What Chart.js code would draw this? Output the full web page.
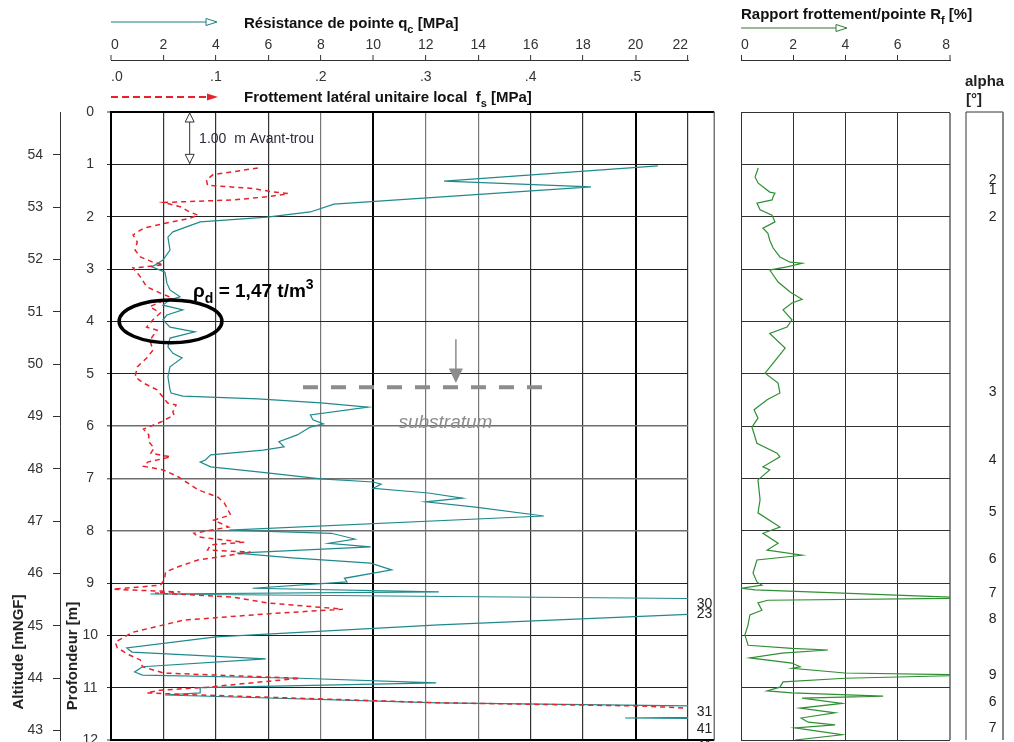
<!DOCTYPE html>
<html lang="fr">
<head>
<meta charset="utf-8">
<title>Sondage pénétrométrique</title>
<script src="https://cdn.jsdelivr.net/npm/chart.js@4.4.1/dist/chart.umd.min.js"></script>
<style>
  html, body { margin: 0; padding: 0; background: #fff; width: 1014px; height: 742px; overflow: hidden; }
  canvas { position: absolute; top: 0; }
  #mainChart { left: 0; }
  #rfChart { left: 720px; }
  #alphaChart { left: 960px; }
</style>
</head>
<body>
<canvas id="mainChart" width="720" height="760"></canvas>
<canvas id="rfChart" width="294" height="760"></canvas>
<canvas id="alphaChart" width="54" height="760"></canvas>
<script>
// Graduations
const qcTicks = [0, 2, 4, 6, 8, 10, 12, 14, 16, 18, 20, 22];
const fsTicks = [0, 0.1, 0.2, 0.3, 0.4, 0.5, 0.55];
const rfTicks = [0, 2, 4, 6, 8];
const depthTicks = [0, 1, 2, 3, 4, 5, 6, 7, 8, 9, 10, 11, 12];
const altTicks = [43, 44, 45, 46, 47, 48, 49, 50, 51, 52, 53, 54];
const ALT_TOP = 54.82; // altitude de la tête du sondage (mNGF)

// Résistance de pointe qc [MPa] en fonction de la profondeur [m]
const qcDepth = [1.03, 1.32, 1.43, 1.76, 1.91, 2.01, 2.10, 2.29, 2.39, 2.64,
  2.83, 2.96, 3.06, 3.27, 3.40, 3.53, 3.59, 3.69, 3.78, 3.88,
  3.97, 4.11, 4.20, 4.32, 4.49, 4.61, 4.70, 4.87, 5.06, 5.31,
  5.37, 5.43, 5.48, 5.56, 5.64, 5.79, 5.88, 5.96, 6.02, 6.17,
  6.30, 6.40, 6.46, 6.55, 6.65, 6.69, 6.78, 6.88, 7.01, 7.07,
  7.11, 7.19, 7.28, 7.38, 7.45, 7.55, 7.72, 7.99, 8.05, 8.16,
  8.24, 8.31, 8.43, 8.52, 8.62, 8.75, 8.91, 8.98, 9.10, 9.17,
  9.21, 9.33, 9.45, 9.58, 9.80, 10.03, 10.24, 10.32, 10.45, 10.60,
  10.70, 10.76, 10.82, 10.91, 11.00, 11.10, 11.14, 11.29, 11.40, 11.52,
  11.58, 11.65, 12.00];
const qcValue = [20.85, 12.7, 18.3, 8.5, 7.6, 5.95, 3.4, 2.36, 2.17, 2.25,
  1.98, 1.56, 2.06, 2.13, 2.25, 2.63, 2.25, 1.98, 2.74, 2.13,
  1.98, 2.25, 3.2, 2.25, 2.17, 2.36, 2.71, 2.25, 2.17, 2.25,
  2.29, 2.74, 5.6, 8.0, 9.8, 7.6, 7.7, 8.1, 7.6, 7.1,
  6.4, 6.6, 5.8, 3.8, 3.6, 3.4, 3.8, 5.7, 8.0, 10.0,
  10.3, 10.0, 12.1, 13.4, 12.0, 13.9, 16.5, 4.5, 8.4, 9.3,
  8.3, 9.9, 4.8, 6.9, 9.9, 10.7, 8.9, 9.0, 5.4, 12.5,
  1.5, 30, 30, 23, 12.5, 4.0, 0.6, 0.8, 5.9, 1.2,
  0.9, 1.2, 7.2, 12.4, 3.4, 3.4, 2.06, 12.5, 31, 30,
  19.6, 41, 41];

// Frottement latéral unitaire local fs [MPa]
const fsDepth = [1.07, 1.20, 1.30, 1.40, 1.46, 1.52, 1.56, 1.62, 1.68, 1.73,
  1.81, 1.91, 1.97, 2.03, 2.12, 2.22, 2.35, 2.48, 2.64, 2.77,
  2.87, 2.92, 2.96, 2.98, 3.15, 3.34, 3.46, 3.56, 3.63, 3.72,
  3.84, 3.97, 4.11, 4.17, 4.36, 4.55, 4.70, 4.87, 5.06, 5.18,
  5.31, 5.56, 5.60, 5.73, 5.79, 5.92, 6.06, 6.17, 6.30, 6.42,
  6.52, 6.59, 6.69, 6.77, 6.84, 6.97, 7.22, 7.36, 7.47, 7.70,
  7.80, 7.93, 8.05, 8.12, 8.22, 8.27, 8.37, 8.41, 8.56, 8.69,
  8.79, 8.94, 9.04, 9.12, 9.17, 9.19, 9.27, 9.38, 9.50, 9.59,
  9.71, 9.94, 10.13, 10.24, 10.38, 10.47, 10.60, 10.72, 10.76, 10.82,
  10.99, 11.05, 11.10, 11.14, 11.29, 11.35, 11.39, 11.50];
const fsValue = [0.140, 0.097, 0.091, 0.092, 0.135, 0.152, 0.169, 0.149, 0.116, 0.050,
  0.066, 0.075, 0.083, 0.075, 0.053, 0.031, 0.021, 0.025, 0.023, 0.028,
  0.040, 0.050, 0.031, 0.021, 0.028, 0.034, 0.047, 0.059, 0.047, 0.037,
  0.047, 0.040, 0.034, 0.044, 0.037, 0.040, 0.034, 0.025, 0.023, 0.031,
  0.044, 0.054, 0.062, 0.059, 0.060, 0.048, 0.031, 0.036, 0.036, 0.041,
  0.038, 0.057, 0.035, 0.031, 0.050, 0.064, 0.083, 0.102, 0.108, 0.114,
  0.098, 0.112, 0.079, 0.083, 0.127, 0.095, 0.092, 0.133, 0.083, 0.064,
  0.052, 0.051, 0.047, 0.002, 0.066, 0.042, 0.116, 0.149, 0.221, 0.149,
  0.069, 0.021, 0.004, 0.006, 0.018, 0.028, 0.030, 0.050, 0.101, 0.180,
  0.092, 0.047, 0.034, 0.085, 0.314, 0.504, 0.549, 0.75];

// Rapport frottement/pointe Rf [%]
const rfDepth = [1.07, 1.24, 1.36, 1.53, 1.55, 1.62, 1.68, 1.74, 1.87, 1.97,
  2.10, 2.22, 2.32, 2.45, 2.60, 2.77, 2.87, 2.89, 2.96, 3.02,
  3.25, 3.44, 3.58, 3.65, 3.78, 3.97, 4.11, 4.23, 4.51, 4.80,
  4.99, 5.18, 5.37, 5.50, 5.69, 5.85, 6.02, 6.33, 6.52, 6.59,
  6.78, 6.84, 7.03, 7.41, 7.66, 7.93, 8.05, 8.24, 8.37, 8.47,
  8.56, 8.81, 8.98, 9.04, 9.10, 9.13, 9.29, 9.33, 9.38, 9.52,
  9.61, 9.80, 9.99, 10.19, 10.25, 10.28, 10.34, 10.43, 10.53, 10.60,
  10.63, 10.72, 10.76, 10.82, 10.89, 10.99, 11.06, 11.10, 11.16, 11.20,
  11.30, 11.39, 11.48, 11.58, 11.66, 11.71, 11.77, 11.90, 12.00];
const rfValue = [0.66, 0.54, 0.66, 1.10, 1.30, 1.23, 1.19, 0.61, 0.73, 1.19,
  1.30, 0.84, 1.03, 1.10, 1.23, 1.49, 1.88, 2.34, 1.76, 1.10,
  1.42, 1.88, 2.34, 1.95, 1.61, 1.95, 1.76, 1.10, 1.69, 1.23,
  0.92, 1.42, 1.49, 1.00, 0.50, 0.65, 0.42, 0.61, 1.38, 1.49,
  0.84, 1.10, 0.65, 0.73, 0.65, 1.49, 0.84, 1.42, 1.00, 2.34,
  0.61, 0.46, 0.61, 0.80, 0.04, 0.54, 9.0, 1.03, 0.65, 0.80,
  0.34, 0.27, 0.15, 0.27, 1.95, 3.33, 1.57, 0.34, 1.95, 2.26,
  1.95, 3.98, 9.0, 3.98, 1.61, 1.49, 1.00, 1.95, 5.44, 2.34,
  3.87, 2.26, 3.60, 2.30, 2.57, 3.60, 2.07, 3.87, 2.07];

// Angle alpha [°]
const alphaDepth = [1.30, 1.49, 2.01, 5.35, 6.65, 7.64, 8.54, 9.19, 9.69, 10.76, 11.27, 11.77];
const alphaValue = ['2', '1', '2', '3', '4', '5', '6', '7', '8', '9', '6', '7'];

// Valeurs de qc hors échelle
const offDepth = [9.40, 9.59, 11.47, 11.79, 12.12];
const offLabel = ['30', '23', '31', '41', '41'];

const FONT = "'Liberation Sans', Arial, sans-serif";
const TEAL = '#1f8a8c';
const RED = '#e8222b';
const GREEN = '#2f8f33';

Chart.defaults.font.family = FONT;
Chart.defaults.font.size = 14;
Chart.defaults.color = '#333';
Chart.defaults.animation = false;

function pairs(depths, values) {
    return depths.map((d, i) => ({ x: values[i], y: d }));
}

function fixedTicks(list) {
    return scale => { scale.ticks = list.map(v => ({ value: v })); };
}

// texte avec indice / exposant
function richText(ctx, parts, x, y, size, style) {
    let cx = x;
    parts.forEach(([txt, mode]) => {
        const s = mode ? Math.round(size * 0.75) : size;
        ctx.font = `${style} ${s}px ${FONT}`;
        const dy = mode === 'sub' ? size * 0.3 : (mode === 'sup' ? -size * 0.42 : 0);
        ctx.fillText(txt, cx, y + dy);
        cx += ctx.measureText(txt).width;
    });
}

function legendArrow(ctx, x1, x2, y, color, dashed) {
    ctx.save();
    ctx.strokeStyle = color;
    ctx.fillStyle = color;
    ctx.lineWidth = dashed ? 2 : 1.2;
    ctx.setLineDash(dashed ? [7, 4] : []);
    ctx.beginPath(); ctx.moveTo(x1, y); ctx.lineTo(x2 - 10, y); ctx.stroke();
    ctx.setLineDash([]);
    ctx.lineWidth = 1;
    ctx.beginPath(); ctx.moveTo(x2 - 11, y - 3.5); ctx.lineTo(x2, y); ctx.lineTo(x2 - 11, y + 3.5); ctx.closePath();
    if (dashed) {
        ctx.fill();
    } else {
        ctx.fillStyle = '#fff'; ctx.fill(); ctx.stroke();
    }
    ctx.restore();
}

function openHead(ctx, x, tipY, dir) {
    ctx.beginPath();
    ctx.moveTo(x - 4.5, tipY + dir * 9);
    ctx.lineTo(x, tipY);
    ctx.lineTo(x + 4.5, tipY + dir * 9);
    ctx.closePath();
    ctx.fillStyle = '#fff';
    ctx.fill();
    ctx.stroke();
}

const mainDecor = {
    id: 'mainDecor',
    afterDraw(chart) {
        const { ctx, chartArea: a, scales } = chart;
        const px = v => scales.x.getPixelForValue(v);
        const py = d => scales.y.getPixelForValue(d);
        ctx.save();

        // colonne des valeurs hors échelle
        const xr = px(23);
        ctx.strokeStyle = '#000'; ctx.lineWidth = 2;
        ctx.beginPath();
        ctx.moveTo(a.right, a.top); ctx.lineTo(xr, a.top);
        ctx.moveTo(a.right, a.bottom); ctx.lineTo(xr, a.bottom);
        ctx.stroke();
        ctx.strokeStyle = '#555'; ctx.lineWidth = 1.2;
        ctx.beginPath(); ctx.moveTo(xr, a.top); ctx.lineTo(xr, a.bottom); ctx.stroke();
        ctx.fillStyle = '#222'; ctx.font = `14px ${FONT}`;
        ctx.textAlign = 'right'; ctx.textBaseline = 'middle';
        offDepth.forEach((d, i) => ctx.fillText(offLabel[i], xr - 2, py(d)));

        // avant-trou
        const xa = px(3.0);
        ctx.strokeStyle = '#333'; ctx.lineWidth = 1;
        ctx.beginPath(); ctx.moveTo(xa, py(0)); ctx.lineTo(xa, py(1)); ctx.stroke();
        openHead(ctx, xa, py(0) + 1, 1);
        openHead(ctx, xa, py(1) - 1, -1);
        ctx.fillStyle = '#2b2b3b'; ctx.font = `14px ${FONT}`;
        ctx.textAlign = 'left'; ctx.textBaseline = 'alphabetic';
        ctx.fillText('1.00  m Avant-trou', px(3.36), py(0.59));

        // masse volumique sèche
        ctx.strokeStyle = '#000'; ctx.lineWidth = 3.5;
        ctx.beginPath();
        ctx.ellipse(px(2.27), py(4.0), px(4.23) - px(2.27), py(4.41) - py(4.0), 0, 0, Math.PI * 2);
        ctx.stroke();
        ctx.fillStyle = '#000';
        richText(ctx, [['ρ'], ['d', 'sub'], [' = 1,47 t/m'], ['3', 'sup']], px(3.13), py(3.54), 19, 'bold');

        // substratum
        ctx.strokeStyle = '#8c8c8c'; ctx.lineWidth = 4; ctx.setLineDash([15, 13]);
        ctx.beginPath(); ctx.moveTo(px(7.32), py(5.26)); ctx.lineTo(px(16.47), py(5.26)); ctx.stroke();
        ctx.setLineDash([]);
        const xs = px(13.15);
        ctx.lineWidth = 1.5;
        ctx.beginPath(); ctx.moveTo(xs, py(4.34)); ctx.lineTo(xs, py(5.0)); ctx.stroke();
        ctx.fillStyle = '#8c8c8c';
        ctx.beginPath(); ctx.moveTo(xs - 7, py(4.9)); ctx.lineTo(xs, py(5.18)); ctx.lineTo(xs + 7, py(4.9)); ctx.closePath(); ctx.fill();
        ctx.font = `italic 19px ${FONT}`; ctx.textAlign = 'center';
        ctx.fillText('substratum', px(12.75), py(6.04));

        // légendes du haut
        ctx.textAlign = 'left';
        legendArrow(ctx, 111, 217, 22, '#1d7d7f', false);
        ctx.fillStyle = '#111';
        richText(ctx, [['Résistance de pointe q'], ['c', 'sub'], [' [MPa]']], 244, 28, 15, 'bold');
        legendArrow(ctx, 111, 218, 97, RED, true);
        ctx.fillStyle = '#111';
        richText(ctx, [['Frottement latéral unitaire local  f'], ['s', 'sub'], [' [MPa]']], 244, 102, 15, 'bold');

        // titres des axes verticaux
        ctx.font = `bold 15px ${FONT}`; ctx.fillStyle = '#222';
        ctx.textAlign = 'center'; ctx.textBaseline = 'middle';
        ctx.save(); ctx.translate(19, 652); ctx.rotate(-Math.PI / 2); ctx.fillText('Altitude [mNGF]', 0, 0); ctx.restore();
        ctx.save(); ctx.translate(73, 656); ctx.rotate(-Math.PI / 2); ctx.fillText('Profondeur [m]', 0, 0); ctx.restore();

        ctx.restore();
    }
};

const qcGridColor = c => {
    const v = c.tick ? c.tick.value : -1;
    if ([0, 10, 20].includes(v)) return '#000';
    return [8, 12, 14].includes(v) ? '#777' : '#333';
};
const qcGridWidth = c => (c.tick && [0, 10, 20].includes(c.tick.value)) ? 2 : 1.2;
const depthGridColor = c => {
    const v = c.tick ? c.tick.value : -1;
    if (v === 0 || v === 12) return '#000';
    return [6, 7, 8].includes(v) ? '#6e6e6e' : '#222';
};
const depthGridWidth = c => {
    const v = c.tick ? c.tick.value : -1;
    if (v === 0 || v === 12) return 2;
    return [6, 7, 8].includes(v) ? 1.6 : 1;
};

new Chart(document.getElementById('mainChart'), {
    type: 'scatter',
    data: {
        datasets: [
            {
                label: 'fs',
                data: pairs(fsDepth, fsValue),
                xAxisID: 'xFs',
                yAxisID: 'y',
                showLine: true,
                borderColor: RED,
                borderWidth: 1.5,
                borderDash: [5, 4],
                pointRadius: 0,
                order: 0
            },
            {
                label: 'qc',
                data: pairs(qcDepth, qcValue),
                xAxisID: 'x',
                yAxisID: 'y',
                showLine: true,
                borderColor: TEAL,
                borderWidth: 1.2,
                pointRadius: 0,
                order: 1
            }
        ]
    },
    options: {
        responsive: false,
        events: [],
        layout: { padding: { left: 0, top: 0, right: 32, bottom: 20 } },
        plugins: { legend: { display: false }, tooltip: { enabled: false } },
        scales: {
            x: {
                type: 'linear', position: 'top', weight: 1, min: 0, max: 22,
                afterBuildTicks: fixedTicks(qcTicks),
                afterFit: s => { s.height = 60; },
                ticks: { align: 'inner', padding: 1, maxRotation: 0, autoSkip: false },
                grid: { color: qcGridColor, lineWidth: qcGridWidth, tickLength: 5, tickColor: '#333', tickWidth: 1 },
                border: { display: true, color: '#333', width: 1 }
            },
            xFs: {
                type: 'linear', position: 'top', weight: 0, min: 0, max: 0.55,
                afterBuildTicks: fixedTicks(fsTicks),
                afterFit: s => { s.height = 52; },
                ticks: {
                    align: 'inner', padding: 26, maxRotation: 0, autoSkip: false,
                    callback: v => v > 0.5 ? '' : '.' + Math.round(v * 10)
                },
                grid: { display: false, drawTicks: false },
                border: { display: false }
            },
            y: {
                type: 'linear', position: 'left', weight: 0, reverse: true, min: 0, max: 12,
                afterBuildTicks: fixedTicks(depthTicks),
                afterFit: s => { s.width = 51; },
                ticks: { crossAlign: 'center', padding: 9, autoSkip: false },
                grid: { color: depthGridColor, lineWidth: depthGridWidth, tickLength: 4, tickColor: '#333', tickWidth: 1 },
                border: { display: true, color: '#000', width: 2 }
            },
            yAlt: {
                type: 'linear', position: 'left', weight: 1, min: ALT_TOP - 12, max: ALT_TOP,
                afterBuildTicks: fixedTicks(altTicks),
                afterFit: s => { s.width = 60; },
                ticks: { padding: 10, autoSkip: false },
                grid: { drawOnChartArea: false, tickLength: 7, tickColor: '#333', tickWidth: 1 },
                border: { display: true, color: '#333', width: 1 }
            }
        }
    },
    plugins: [mainDecor]
});

const rfDecor = {
    id: 'rfDecor',
    afterDraw(chart) {
        const { ctx } = chart;
        ctx.save();
        ctx.textAlign = 'left'; ctx.textBaseline = 'alphabetic';
        ctx.fillStyle = '#111';
        richText(ctx, [['Rapport frottement/pointe R'], ['f', 'sub'], [' [%]']], 21, 19, 15, 'bold');
        legendArrow(ctx, 21, 127, 28, '#2e7d2e', false);
        ctx.restore();
    }
};

new Chart(document.getElementById('rfChart'), {
    type: 'scatter',
    data: {
        datasets: [{
            label: 'Rf',
            data: pairs(rfDepth, rfValue),
            showLine: true,
            borderColor: GREEN,
            borderWidth: 1.2,
            pointRadius: 0
        }]
    },
    options: {
        responsive: false,
        events: [],
        layout: { padding: { left: 21, top: 0, right: 64, bottom: 20 } },
        plugins: { legend: { display: false }, tooltip: { enabled: false } },
        scales: {
            x: {
                type: 'linear', position: 'top', weight: 1, min: 0, max: 8,
                afterBuildTicks: fixedTicks(rfTicks),
                afterFit: s => { s.height = 60; },
                ticks: { align: 'inner', padding: 1, maxRotation: 0, autoSkip: false },
                grid: {
                    color: c => (c.tick && c.tick.value === 8) ? '#888' : '#333',
                    lineWidth: c => (c.tick && c.tick.value === 8) ? 2 : 1,
                    tickLength: 5, tickColor: '#333', tickWidth: 1
                },
                border: { display: true, color: '#333', width: 1 }
            },
            xPad: {
                type: 'linear', position: 'top', weight: 0, min: 0, max: 8,
                afterFit: s => { s.height = 52; },
                ticks: { display: false },
                grid: { display: false },
                border: { display: false }
            },
            y: {
                type: 'linear', position: 'left', reverse: true, min: 0, max: 12,
                afterBuildTicks: fixedTicks(depthTicks),
                afterFit: s => { s.width = 0; },
                ticks: { display: false },
                grid: { color: '#333', lineWidth: 1, drawTicks: false },
                border: { display: true, color: '#333', width: 1 }
            }
        }
    },
    plugins: [rfDecor]
});

const alphaDecor = {
    id: 'alphaDecor',
    afterDraw(chart) {
        const { ctx, chartArea: a } = chart;
        ctx.save();
        ctx.strokeStyle = '#333'; ctx.lineWidth = 1;
        ctx.beginPath();
        ctx.moveTo(a.left, a.bottom); ctx.lineTo(a.left, a.top); ctx.lineTo(a.right, a.top);
        ctx.stroke();
        ctx.strokeStyle = '#888'; ctx.lineWidth = 2;
        ctx.beginPath(); ctx.moveTo(a.right, a.top); ctx.lineTo(a.right, a.bottom); ctx.stroke();

        ctx.fillStyle = '#222';
        ctx.font = `bold 15px ${FONT}`;
        ctx.textAlign = 'left'; ctx.textBaseline = 'alphabetic';
        ctx.fillText('alpha', 5, 86);
        ctx.fillText('[°]', 6, 104);

        ctx.font = `14px ${FONT}`;
        ctx.textAlign = 'center'; ctx.textBaseline = 'middle';
        const meta = chart.getDatasetMeta(0);
        meta.data.forEach((pt, i) => ctx.fillText(alphaValue[i], pt.x, pt.y));
        ctx.restore();
    }
};

new Chart(document.getElementById('alphaChart'), {
    type: 'scatter',
    data: {
        datasets: [{ label: 'alpha', data: alphaDepth.map(d => ({ x: 0.72, y: d })), pointRadius: 0 }]
    },
    options: {
        responsive: false,
        events: [],
        layout: { padding: { left: 6, top: 112, right: 11, bottom: 20 } },
        plugins: { legend: { display: false }, tooltip: { enabled: false } },
        scales: {
            x: { type: 'linear', display: false, min: 0, max: 1 },
            y: { type: 'linear', display: false, reverse: true, min: 0, max: 12 }
        }
    },
    plugins: [alphaDecor]
});
</script>
</body>
</html>
